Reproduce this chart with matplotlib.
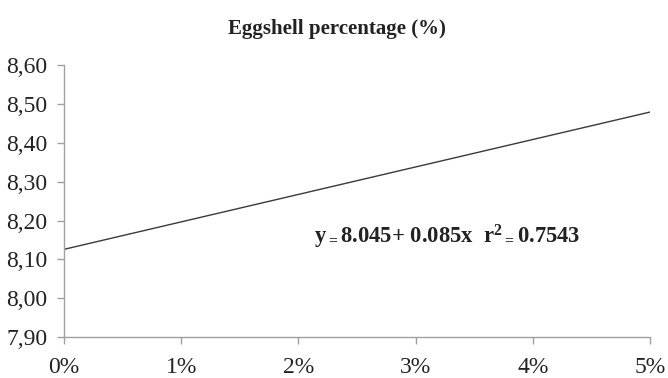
import matplotlib
matplotlib.use('Agg')
import matplotlib.pyplot as plt

# 数据
x_levels = [0, 5]
y_fit = [8.126, 8.479]
x_ticks = [0, 1, 2, 3, 4, 5]
x_labels = ['0%', '1%', '2%', '3%', '4%', '5%']
y_ticks = [7.90, 8.00, 8.10, 8.20, 8.30, 8.40, 8.50, 8.60]
y_labels = ['7,90', '8,00', '8,10', '8,20', '8,30', '8,40', '8,50', '8,60']

plt.rcParams['font.family'] = ['Liberation Serif', 'DejaVu Serif']
plt.rcParams['mathtext.fontset'] = 'custom'
plt.rcParams['mathtext.rm'] = 'Liberation Serif:bold'
plt.rcParams['mathtext.it'] = 'Liberation Serif:bold'

fig = plt.figure(figsize=(6.68, 3.78), dpi=100)
ax = fig.add_axes([0.096, 0.108, 0.877, 0.72])

ax.plot(x_levels, y_fit, color='#3a3a3a', linewidth=1.0)

ax.set_xlim(0, 5)
ax.set_ylim(7.90, 8.60)
ax.set_xticks(x_ticks)
ax.set_xticklabels(x_labels, fontsize=17, color='#222222')
ax.set_yticks(y_ticks)
ax.set_yticklabels(y_labels, fontsize=17, color='#222222')

for s in ['top', 'right']:
    ax.spines[s].set_visible(False)
for s in ['left', 'bottom']:
    ax.spines[s].set_color('#a0a0a0')
    ax.spines[s].set_linewidth(1.0)
ax.tick_params(axis='both', colors='#a0a0a0', length=5, width=1.0, labelcolor='#222222')
ax.tick_params(axis='y', pad=7)
ax.tick_params(axis='x', pad=9)

fig.text(0.505, 0.922, 'Eggshell percentage (%)', ha='center', va='center',
         fontsize=15, fontweight='bold', color='#222222')

ax.text(0.654, 0.37, r'y$_{=}$8.045+ 0.085x  r$^{2}$$_{=}$0.7543', transform=ax.transAxes,
        ha='center', va='center', fontsize=16.3, fontweight='bold', color='#222222')

fig.savefig('out.png', dpi=100)
